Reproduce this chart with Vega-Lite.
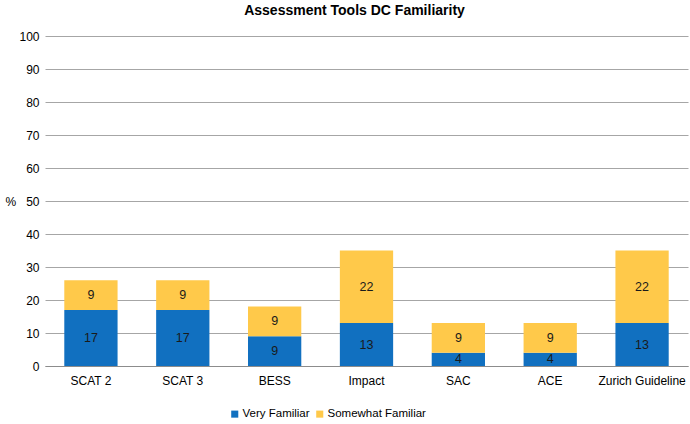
{
  "$schema": "https://vega.github.io/schema/vega-lite/v6.json",
  "width": 643,
  "height": 330,
  "autosize": {"type": "none"},
  "padding": {"left": 45, "top": 36, "right": 2, "bottom": 58},
  "background": "white",
  "config": {
    "view": {"stroke": null},
    "font": "Liberation Sans",
    "axis": {"labelFont": "Liberation Sans", "titleFont": "Liberation Sans"},
    "axisY": {
      "titleAngle": 0,
      "titleAlign": "left",
      "titleBaseline": "middle",
      "titleX": -40,
      "titleY": 165,
      "titleFontSize": 12,
      "titleFontWeight": "normal",
      "titleColor": "#000000",
      "labelOverlap": false,
      "domain": false,
      "ticks": false,
      "labelPadding": 6,
      "labelFontSize": 12,
      "labelColor": "#000000",
      "gridColor": "#a6a6a6",
      "gridWidth": 1
    }
  },
  "title": {
    "text": "Assessment Tools DC Familiarity",
    "fontSize": 14,
    "fontWeight": "bold",
    "color": "#000000",
    "anchor": "middle",
    "dx": -12,
    "offset": 12,
    "font": "Liberation Sans"
  },
  "data": {
    "values": [
      {"tool": "SCAT 2", "series": "Very Familiar", "value": 17},
      {"tool": "SCAT 2", "series": "Somewhat Familiar", "value": 9},
      {"tool": "SCAT 3", "series": "Very Familiar", "value": 17},
      {"tool": "SCAT 3", "series": "Somewhat Familiar", "value": 9},
      {"tool": "BESS", "series": "Very Familiar", "value": 9},
      {"tool": "BESS", "series": "Somewhat Familiar", "value": 9},
      {"tool": "Impact", "series": "Very Familiar", "value": 13},
      {"tool": "Impact", "series": "Somewhat Familiar", "value": 22},
      {"tool": "SAC", "series": "Very Familiar", "value": 4},
      {"tool": "SAC", "series": "Somewhat Familiar", "value": 9},
      {"tool": "ACE", "series": "Very Familiar", "value": 4},
      {"tool": "ACE", "series": "Somewhat Familiar", "value": 9},
      {"tool": "Zurich Guideline", "series": "Very Familiar", "value": 13},
      {"tool": "Zurich Guideline", "series": "Somewhat Familiar", "value": 22}
    ]
  },
  "transform": [
    {"stack": "value", "groupby": ["tool"], "sort": [{"field": "series", "order": "descending"}], "as": ["v0", "v1"]},
    {"calculate": "(datum.v0 + datum.v1) / 2", "as": "mid"}
  ],
  "encoding": {
    "x": {
      "field": "tool",
      "type": "nominal",
      "sort": ["SCAT 2", "SCAT 3", "BESS", "Impact", "SAC", "ACE", "Zurich Guideline"],
      "scale": {"paddingInner": 0.42, "paddingOuter": 0.21},
      "axis": {
        "title": null,
        "labelAngle": 0,
        "labelFontSize": 12,
        "labelColor": "#000000",
        "ticks": false,
        "domain": true,
        "domainColor": "#8c8c8c",
        "labelPadding": 9
      }
    }
  },
  "layer": [
    {
      "mark": {"type": "bar"},
      "encoding": {
        "y": {
          "field": "v0",
          "type": "quantitative",
          "scale": {"domain": [0, 100]},
          "axis": {"title": "%", "values": [0, 10, 20, 30, 40, 50, 60, 70, 80, 90, 100]}
        },
        "y2": {"field": "v1"},
        "color": {
          "field": "series",
          "type": "nominal",
          "scale": {"domain": ["Very Familiar", "Somewhat Familiar"], "range": ["#1170c0", "#ffc94a"]},
          "legend": {
            "title": null,
            "orient": "none",
            "direction": "horizontal",
            "legendX": 184,
            "legendY": 372,
            "symbolType": "square",
            "symbolSize": 50,
            "symbolStrokeWidth": 0,
            "symbolOpacity": 1,
            "labelFontSize": 11.5,
            "labelColor": "#000000",
            "labelOffset": 2,
            "columnPadding": 4
          }
        }
      }
    },
    {
      "mark": {"type": "text", "fontSize": 12.5, "color": "#1a1a1a", "baseline": "middle"},
      "encoding": {
        "y": {
          "field": "mid",
          "type": "quantitative",
          "axis": {"title": "%", "values": [0, 10, 20, 30, 40, 50, 60, 70, 80, 90, 100]}
        },
        "text": {"field": "value", "type": "quantitative"}
      }
    }
  ]
}
